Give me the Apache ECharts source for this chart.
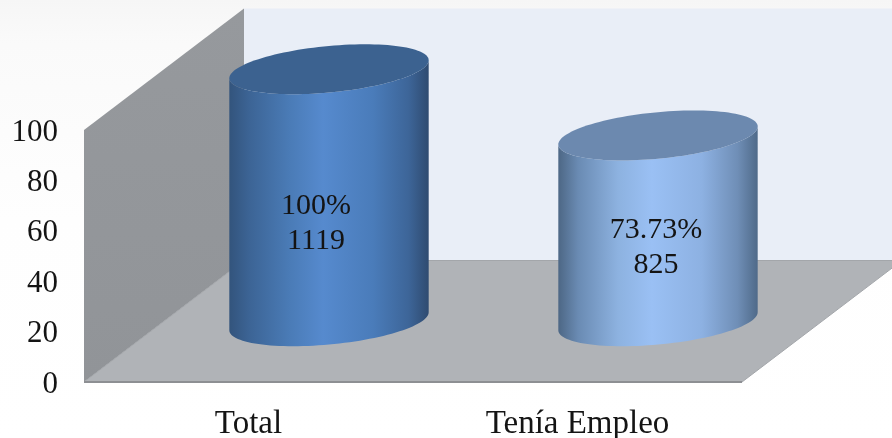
<!DOCTYPE html>
<html>
<head>
<meta charset="utf-8">
<style>html,body{margin:0;padding:0;background:#fff}#c{width:892px;height:438px}</style>
<script src="https://cdn.jsdelivr.net/npm/echarts@6/dist/echarts.min.js"></script>
</head>
<body>
<div id="c"></div>
<script>
const categories = ['Total', 'Tenía Empleo'];
const percentValues = [100, 73.73];
const countValues = [1119, 825];
const axisTicks = { min: 0, max: 100, interval: 20 };

const DEPTH = [160, -121.5];
const FONT = '"Liberation Serif", "DejaVu Serif", serif';
const TEXT_COLOR = '#141414';
const LABEL_SHIFT = [[67.5, -32], [78.5, -41]];
const THEMES = [
  { top: '#3c6290', stops: [[0, '#33547c'], [0.1, '#3c6495'], [0.3, '#4a7bb6'], [0.47, '#568ace'], [0.72, '#4a7cba'], [0.9, '#3d6598'], [1, '#2f4b70']] },
  { top: '#6c89af', stops: [[0, '#4d6785'], [0.1, '#6a8bb3'], [0.3, '#8db2e0'], [0.47, '#9ac0f4'], [0.72, '#8db1e2'], [0.9, '#6f8eb6'], [1, '#4f6a89']] }
];

const chart = echarts.init(document.getElementById('c'));

function renderBackdrop(params, api) {
  const band = api.size([1, 0])[0];
  const o = api.coord([0, axisTicks.min]);
  const t = api.coord([0, axisTicks.max]);
  const left = o[0] - band / 2, right = left + band * categories.length;
  const y0 = o[1], y1 = t[1], dx = DEPTH[0], dy = DEPTH[1];
  return {
    type: 'group',
    children: [
      { type: 'polygon', shape: { points: [[left + dx, y1 + dy], [right + dx, y1 + dy], [right + dx, y0 + dy], [left + dx, y0 + dy]] },
        style: { fill: '#e9eef7' } },
      { type: 'polygon', shape: { points: [[left, y1], [left + dx, y1 + dy], [left + dx, y0 + dy], [left, y0]] },
        style: { fill: new echarts.graphic.LinearGradient(0, 0, 0, 1, [{ offset: 0, color: '#96999d' }, { offset: 1, color: '#919498' }]) } },
      { type: 'polygon', shape: { points: [[left, y0], [right, y0], [right + dx, y0 + dy], [left + dx, y0 + dy]] },
        style: { fill: '#b0b3b7', stroke: '#a3a6aa', lineWidth: 1 } },
      { type: 'line', shape: { x1: left, y1: y0, x2: right, y2: y0 },
        style: { stroke: '#8d8f93', lineWidth: 2 } }
    ]
  };
}

function ellipsePoints(cx, cy, rx, skew, ry, from, to, n) {
  const pts = [];
  for (let i = 0; i <= n; i++) {
    const a = from + (to - from) * i / n;
    pts.push([cx + rx * Math.cos(a), cy + skew * Math.cos(a) + ry * Math.sin(a)]);
  }
  return pts;
}

function renderCylinder(params, api) {
  const i = api.value(0), v = api.value(1);
  const band = api.size([1, 0])[0];
  const base = api.coord([i, 0]), top = api.coord([i, v]);
  const cx = base[0] + DEPTH[0] / 2 + 0.5;
  const by = base[1] + DEPTH[1] / 2, ty = top[1] + DEPTH[1] / 2;
  const rx = band * 0.303, skew = -9, ry = 23.3;
  const theme = THEMES[i];
  const body = [].concat(
    ellipsePoints(cx, by, rx, skew, ry, Math.PI, 0, 60),
    ellipsePoints(cx, ty, rx, skew, ry, 0, Math.PI, 60)
  );
  const mid = api.coord([i, v / 2]);
  const shift = LABEL_SHIFT[i];
  return {
    type: 'group',
    children: [
      { type: 'polygon', shape: { points: body },
        style: { fill: new echarts.graphic.LinearGradient(0, 0, 1, 0, theme.stops.map(s => ({ offset: s[0], color: s[1] }))) } },
      { type: 'polygon', shape: { points: ellipsePoints(cx, ty, rx, skew, ry, 0, Math.PI * 2, 120) },
        style: { fill: theme.top } },
      { type: 'text', x: mid[0] + shift[0], y: mid[1] + shift[1],
        style: { text: v + '%\n' + countValues[i], font: '30px ' + FONT, fill: TEXT_COLOR,
          align: 'center', verticalAlign: 'middle', lineHeight: 35 } }
    ]
  };
}

chart.setOption({
  animation: false,
  backgroundColor: new echarts.graphic.LinearGradient(0, 0, 0, 1, [
    { offset: 0, color: '#f6f6f6' }, { offset: 0.1, color: '#fafafa' }, { offset: 0.5, color: '#fefefe' }, { offset: 1, color: '#ffffff' }
  ]),
  grid: { left: 84, top: 130, width: 658, height: 252, containLabel: false, outerBoundsMode: 'none' },
  xAxis: {
    type: 'category', data: categories,
    axisLine: { show: false }, axisTick: { show: false }, splitLine: { show: false },
    axisLabel: { color: TEXT_COLOR, fontFamily: FONT, fontSize: 33, margin: 26 }
  },
  yAxis: {
    type: 'value', min: axisTicks.min, max: axisTicks.max, interval: axisTicks.interval,
    axisLine: { show: false }, axisTick: { show: false }, splitLine: { show: false },
    axisLabel: { color: TEXT_COLOR, fontFamily: FONT, fontSize: 31, margin: 26, verticalAlign: 'top', lineHeight: 5 }
  },
  series: [
    { type: 'custom', silent: true, z: 1, clip: false, renderItem: renderBackdrop, data: [[0, 0]] },
    { type: 'custom', silent: true, z: 2, clip: false, renderItem: renderCylinder,
      encode: { x: 0, y: 1 }, data: percentValues.map((v, i) => [i, v]) }
  ]
});
</script>
</body>
</html>
